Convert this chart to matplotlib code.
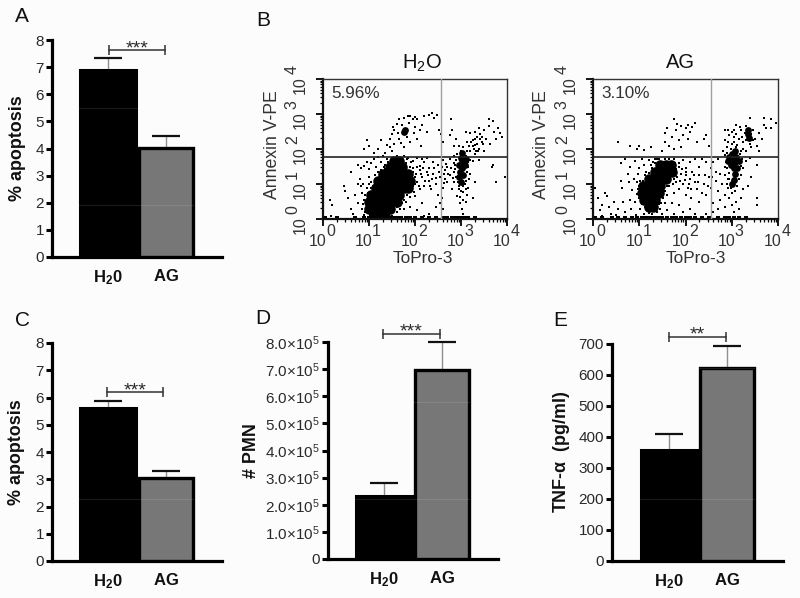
import numpy as np
import matplotlib
matplotlib.use("Agg")
import matplotlib.pyplot as plt
from matplotlib.ticker import FixedLocator, NullFormatter
from matplotlib.transforms import ScaledTranslation, blended_transform_factory

plt.rcParams['font.family'] = ['Liberation Sans', 'DejaVu Sans']
plt.rcParams['mathtext.fontset'] = 'custom'
plt.rcParams['mathtext.rm'] = 'Liberation Sans'
plt.rcParams['mathtext.bf'] = 'Liberation Sans:bold'
plt.rcParams['mathtext.it'] = 'Liberation Sans:italic'
plt.rcParams['mathtext.default'] = 'regular'

a_values = [6.88, 4.02]; a_tops = [7.35, 4.45]
c_values = [5.63, 3.04]; c_tops = [5.88, 3.31]
d_values = [2.33e5, 6.95e5]; d_tops = [2.8e5, 8.0e5]
e_values = [358, 620]; e_tops = [408, 691]

# flow cytometry events, in decades (log10 of ToPro-3, log10 of Annexin V-PE), read by eye
h2o_core = [(1.1,0.1),(1.25,0.1),(1.35,0.1),(1.0,0.3),(1.15,0.3),(1.3,0.3),(1.45,0.3),
            (1.0,0.5),(1.15,0.5),(1.3,0.5),(1.45,0.5),(1.6,0.5),(1.05,0.7),(1.2,0.7),(1.35,0.7),(1.5,0.7),(1.65,0.7),
            (1.15,0.9),(1.3,0.9),(1.45,0.9),(1.6,0.9),(1.75,0.9),(1.85,0.9),
            (1.2,1.1),(1.35,1.1),(1.5,1.1),(1.65,1.1),(1.8,1.1),(1.9,1.1),
            (1.3,1.3),(1.45,1.3),(1.6,1.3),(1.75,1.3),(1.85,1.3),(1.45,1.5),(1.6,1.5),(1.72,1.5),(1.55,1.65),(1.65,1.65)]
h2o_core2 = [(1.79,2.54),(1.76,2.5),(3.02,1.62),(3.03,1.45),(2.98,1.35),(3.05,1.25),(3.0,1.75),(3.08,1.55),(2.95,1.55),
             (3.02,1.9),(3.1,1.72),(2.96,1.2),(3.0,1.05)]
h2o_dots = [(0.9,2.0),(0.95,2.25),(1.0,2.1),(1.1,1.88),(1.2,2.0),(1.25,2.25),(1.35,1.9),(1.4,2.12),(1.45,2.3),(1.5,1.95),
 (1.55,2.15),(1.5,2.42),(1.55,2.55),(1.6,2.72),(1.65,2.3),(1.65,2.85),(1.7,2.18),(1.72,2.68),(1.75,2.05),(1.75,2.9),
 (1.82,2.33),(1.88,2.75),(1.9,2.2),(1.9,2.95),(1.97,2.45),(2.0,2.62),(2.05,2.85),(2.05,2.3),(2.12,2.1),(2.15,2.7),
 (2.2,2.95),(2.27,2.5),(2.3,2.96),(2.37,3.03),(2.42,2.88),(2.48,2.98),(2.53,2.55),(2.56,2.42),(2.6,2.2),(1.95,2.85),
 (1.85,2.95),(2.0,2.92),(2.1,2.55),(1.62,2.45),(1.52,2.62),(1.45,2.05),(0.75,1.55),(0.82,1.45),(0.9,1.52),(0.6,1.35),
 (0.95,1.62),(1.0,1.42),(1.05,1.6),(1.1,1.72),(1.15,1.5),(1.2,1.78),(1.25,1.62),(1.3,1.8),(1.35,1.55),(1.4,1.72),
 (1.5,1.7),(1.6,1.8),(1.7,1.72),(1.8,1.6),(1.85,1.75),(1.9,1.5),(1.95,1.65),(2.05,1.75),(2.1,1.52),(2.15,1.72),
 (2.2,1.62),(2.25,1.75),(2.3,1.45),(2.4,1.62),(2.5,1.55),(2.6,1.7),(2.7,1.5),(2.75,1.72),(2.85,1.6),(1.85,1.3),
 (1.9,1.12),(1.95,1.35),(2.0,1.2),(2.05,1.05),(2.1,1.4),(2.15,1.2),(2.2,0.95),(2.25,1.35),(2.3,1.1),(2.35,0.85),
 (2.4,1.3),(2.45,1.0),(2.5,0.7),(2.55,1.2),(2.6,0.9),(2.65,1.4),(2.7,1.05),(2.75,1.25),(2.8,0.85),(2.85,1.35),
 (2.65,1.15),(2.62,1.02),(2.58,0.6),(2.55,0.45),(2.85,1.05),(2.9,1.2),(2.95,0.95),(3.0,0.8),(2.92,0.65),(3.05,0.95),
 (3.1,1.1),(3.12,0.7),(2.98,0.45),(3.02,0.3),(3.05,0.15),(3.1,0.5),(3.15,0.9),(3.2,1.3),(3.15,1.5),(3.2,1.7),
 (3.1,1.8),(3.0,1.95),(2.95,2.1),(3.05,2.05),(3.12,2.2),(3.2,1.95),(3.25,2.1),(3.3,1.85),(3.35,2.15),(3.3,2.3),
 (3.4,2.0),(3.45,2.2),(3.5,1.95),(3.42,2.42),(3.5,2.55),(3.55,2.3),(3.6,2.65),(3.62,2.15),(3.7,2.8),(3.72,2.5),
 (3.75,2.3),(3.8,2.6),(3.85,2.45),(3.9,2.35),(3.6,2.85),(3.4,2.6),(3.3,2.5),(3.2,2.45),(3.1,2.5),(2.78,2.85),
 (2.8,2.55),(2.75,2.4),(2.9,2.3),(2.85,2.1),(3.25,1.65),(3.4,1.7),(3.7,1.55),(3.68,1.5),(0.15,0.55),(0.2,0.4),
 (0.18,0.1),(0.45,0.95),(0.48,0.8),(0.55,0.6),(0.6,0.3),(0.65,0.15),(0.7,0.7),(0.75,0.45),(0.8,1.15),(0.82,0.95),
 (0.85,0.3),(0.9,0.55),(0.9,0.12),(0.95,0.9),(0.98,0.2),(0.75,1.0),(1.0,1.2),(1.05,1.05),(1.12,1.25),(1.2,1.35),
 (1.28,1.3),(1.35,1.42),(1.7,0.65),(1.8,0.5),(1.85,0.8),(1.9,0.35),(2.0,0.65),(2.05,0.25),(2.1,0.85),(2.15,0.45),
 (2.3,0.15),(2.2,0.1),(2.45,0.35),(2.6,0.3),(3.75,1.05),(3.25,0.6),(3.3,1.05),(3.95,1.2),(1.75,0.3),(1.6,0.35),
 (1.5,0.2),(1.45,0.35),(1.55,0.5),(1.65,0.45),
 # denser fringe around the main populations
 (2.0,1.0),(2.02,1.3),(2.05,1.48),(2.08,0.95),(2.12,1.3),(2.18,1.45),(2.22,1.08),(2.28,1.25),(2.32,0.95),(2.38,1.15),
 (2.42,1.45),(2.46,1.18),(2.52,1.35),(2.58,1.5),(2.62,1.28),(2.68,1.58),(2.72,1.3),(2.78,1.45),(2.82,1.18),(2.88,1.42),
 (2.9,1.7),(2.92,1.85),(2.88,1.55),(2.85,1.8),(3.12,1.35),(3.15,1.62),(3.18,1.15),(3.12,1.95),(3.08,1.0),(3.05,0.78),
 (2.96,0.85),(2.93,1.05),(3.1,0.85),(2.98,0.62),(3.05,0.55),(3.3,2.12),(3.35,2.35),(3.38,1.95),(3.42,2.28),(3.28,2.0),
 (3.32,1.95),(3.45,2.35),(3.25,2.25),(3.48,2.15),(3.22,2.2),(3.18,2.1),(1.95,0.95),(1.98,0.78),(1.9,0.62),(1.82,0.68),
 (1.75,0.55),(1.72,0.45),(1.68,0.3),(1.6,0.2),(1.5,0.1),(1.95,1.45),(1.92,1.62),(1.82,1.72),(1.75,1.8),(1.62,1.72),
 (1.42,1.62),(1.32,1.48),(1.25,1.4),(1.18,1.18),(1.12,1.0),(1.05,0.88),(0.98,0.75),(0.92,0.68),(0.88,0.42),(0.95,0.3),
 (0.92,0.2),(1.02,0.12),(1.08,0.95),(0.85,0.75),(0.88,1.0),(1.0,1.0)]
h2o_base = [0.05,0.3,0.7,0.9,1.0,1.1,1.15,1.2,1.25,1.3,1.35,1.4,1.5,1.55,1.6,1.7,1.8,1.9,2.0,2.15,2.3,2.45,2.6,2.7,2.8,2.9,2.95,3.0,3.05,3.1,3.15,3.3]

ag_core = [(1.2,0.35),(1.3,0.35),(1.1,0.55),(1.22,0.55),(1.35,0.55),(1.05,0.75),(1.18,0.75),(1.3,0.75),(1.42,0.75),
           (1.08,0.95),(1.2,0.95),(1.32,0.95),(1.45,0.95),(1.2,1.15),(1.32,1.15),(1.45,1.15),(1.58,1.15),
           (1.35,1.35),(1.48,1.35),(1.6,1.35),(1.7,1.35),(1.45,1.55),(1.58,1.55),(1.68,1.55)]
ag_core2 = [(3.02,1.72),(3.08,1.62),(2.98,1.55),(3.1,1.78),(3.12,1.45),(3.0,1.85),(3.35,2.42),(3.38,2.32),(3.07,1.3),
            (2.92,1.65),(3.15,1.65),(3.05,1.45),(2.95,1.78),(3.08,1.95),(3.05,1.12),(3.0,1.0),(3.35,2.55)]
ag_dots = [(0.55,2.2),(0.8,2.1),(0.95,2.0),(1.0,2.1),(1.1,1.98),(1.25,2.05),(1.5,1.95),(1.55,2.2),(1.55,2.45),(1.6,2.6),
 (1.65,2.1),(1.7,2.35),(1.75,2.0),(1.8,2.55),(1.85,2.25),(1.9,2.05),(1.9,2.65),(1.95,2.4),(1.75,2.85),(2.0,2.6),
 (2.05,2.3),(2.05,2.7),(2.1,2.5),(2.2,2.75),(2.25,2.2),(2.4,2.3),(2.45,2.4),(2.5,2.1),(2.15,2.62),(1.82,2.72),
 (0.6,1.6),(0.7,1.72),(0.8,1.5),(0.9,1.65),(1.0,1.45),(1.05,1.72),(1.1,1.55),(1.15,1.35),(1.2,1.7),(1.25,1.55),
 (1.3,1.4),(1.35,1.72),(1.4,1.6),(1.75,1.72),(1.85,1.6),(1.95,1.7),(2.0,1.45),(2.1,1.62),(2.15,1.35),(2.2,1.72),
 (2.3,1.5),(2.35,1.72),(2.45,1.62),(2.55,1.45),(2.6,1.62),(2.65,1.35),(2.7,1.72),(2.3,1.25),(2.2,1.05),(2.1,1.15),
 (2.0,1.25),(1.9,1.3),(1.8,1.05),(1.85,0.85),(1.95,1.0),(2.05,0.9),(1.75,0.75),(2.0,0.7),(2.12,0.6),(2.25,0.85),
 (2.3,0.5),(2.4,1.0),(2.45,0.7),(2.5,1.2),(2.55,0.9),(2.6,0.45),(2.65,1.1),(2.7,0.8),(2.75,1.3),(2.8,1.0),
 (2.75,0.55),(2.85,0.7),(2.85,1.25),(2.9,1.45),(2.9,1.0),(2.92,0.9),(2.95,1.15),(3.0,1.05),(3.05,0.95),(3.08,1.1),
 (2.95,0.6),(3.0,0.4),(3.05,0.2),(3.1,0.5),(3.15,0.3),(3.2,0.6),(3.2,1.25),(3.25,1.45),(3.3,1.65),(3.3,1.95),
 (3.2,1.95),(3.1,2.05),(3.0,2.15),(2.9,2.05),(2.85,2.25),(2.95,2.4),(3.05,2.35),(3.15,2.3),(3.2,2.55),(3.25,2.2),
 (3.3,2.65),(3.1,2.7),(3.05,2.55),(3.4,2.15),(3.45,2.55),(3.5,2.3),(3.55,2.1),(3.6,2.45),(3.65,2.3),(3.7,2.7),
 (3.75,2.6),(3.85,2.6),(3.85,2.85),(3.7,2.9),(3.95,2.75),(3.55,1.55),(3.6,1.95),(3.4,1.75),(3.4,2.9),(3.42,1.2),
 (0.05,0.9),(0.1,0.6),(0.15,0.25),(0.2,0.4),(0.2,0.1),(0.25,0.75),(0.3,0.65),(0.35,0.35),(0.38,0.15),(0.45,0.5),
 (0.5,0.12),(0.55,0.3),(0.6,1.1),(0.62,0.9),(0.65,0.5),(0.7,0.2),(0.75,1.3),(0.78,1.05),(0.8,0.55),(0.82,0.3),
 (0.85,0.82),(0.88,1.15),(0.9,0.5),(0.92,0.12),(0.95,0.72),(0.98,1.3),(1.0,0.95),(1.02,0.3),(1.05,0.55),(1.08,1.1),
 (1.1,0.15),(1.12,0.35),(1.18,1.2),(1.22,0.18),(1.45,0.3),(1.5,0.15),(1.55,0.45),(1.6,0.25),(1.6,0.7),(1.65,0.95),
 (1.7,0.45),(1.75,0.15),(1.78,1.3),(1.85,0.4),(1.95,0.2),(2.1,0.3),(2.2,0.15),(2.45,0.15),(2.6,0.2),(2.7,0.3),
 (2.85,0.35),(3.55,0.4),(3.55,0.6),(3.25,0.85),(3.35,0.95),(1.72,1.0),(1.72,1.42),(1.45,1.55),(1.35,1.25),
 # denser fringe around the main populations
 (1.75,1.15),(1.82,1.2),(1.88,1.1),(1.8,1.42),(1.85,1.48),(1.78,1.6),(1.92,1.42),(1.98,1.12),(2.02,1.35),(2.08,1.0),
 (2.12,0.85),(2.18,1.25),(1.55,0.8),(1.6,0.95),(1.65,1.08),(1.52,0.6),(1.48,0.45),(1.42,0.42),(1.38,0.2),(1.28,0.15),
 (1.0,0.6),(0.98,0.85),(0.95,1.05),(1.02,1.1),(1.12,1.25),(1.22,1.32),(1.28,1.45),(1.35,1.6),(1.42,1.72),(1.55,1.72),
 (1.65,1.72),(1.05,0.42),(2.85,1.5),(2.88,1.62),(2.85,1.82),(2.82,1.95),(2.9,1.9),(2.92,2.2),(2.98,2.0),(3.05,2.2),
 (3.12,2.12),(3.18,1.85),(3.22,1.72),(3.2,1.52),(3.25,2.0),(3.22,2.35),(3.28,2.45),(3.3,2.25),(3.42,2.42),(3.45,2.25),
 (3.42,2.05),(2.95,1.32),(2.92,1.15),(3.15,1.15),(3.12,0.95),(3.08,0.8),(3.0,0.75),(2.98,0.9),(3.1,2.42),(3.0,2.5),
 (2.92,2.55),(2.85,2.55),(3.18,2.62),(1.38,1.72),(1.3,1.62),(2.42,1.25),(2.58,1.2),(2.48,0.95),(2.35,0.75),(2.28,1.05)]
ag_base = [0.05,0.2,0.4,0.55,0.7,0.85,0.95,1.05,1.1,1.15,1.2,1.25,1.3,1.35,1.4,1.45,1.5,1.6,1.7,1.8,1.9,2.0,2.1,2.2,2.35,2.5,2.7,2.85,2.95,3.05,3.15,3.3]

flow_gate_x, flow_gate_y = 2.56, 1.76
W, H = 800, 598
fig = plt.figure(figsize=(8, 5.98), dpi=100, facecolor='#fcfcfc')
TXT = '#2a2a2a'

def axpx(l, t, r, b):
    ax = fig.add_axes([l/W, 1-b/H, (r-l)/W, (b-t)/H])
    ax.patch.set_alpha(0)
    return ax

def barpanel(box, c0, vals, tops, ymax, yticks, ylabels, ylab, br_y, letter, lx, ylab_x, stars, streaks, br=(0.02, 0.98)):
    l, t, r, b = box
    ax = axpx(l, t, r, b)
    unit = 58.0
    ax.set_xlim((l-c0)/unit, (r-c0)/unit)
    ax.set_ylim(0, ymax)
    ax.bar([0], vals[0], width=0.98, color='black', edgecolor='black', linewidth=2.2, zorder=3)
    ax.bar([1], vals[1], width=0.93, color='#777777', edgecolor='black', linewidth=2.4, zorder=3)
    for s in streaks:
        ax.plot([-0.5, 1.47], [s, s], color='white', alpha=0.1, lw=0.9, zorder=4)
    for i in range(2):
        cont = ax.errorbar([i], [vals[i]], yerr=[[0], [tops[i]-vals[i]]], fmt='none', ecolor='#8f8f8f',
                           elinewidth=1.0, capsize=10, capthick=1.6, zorder=2)
        cont[1][0].set_visible(False)
        cont[1][1].set_markeredgecolor('#111111')
        for cap in cont[1]:
            cap.set_clip_on(False)
        cont[2][0].set_clip_on(False)
    ax.plot(list(br), [br_y, br_y], color='#333333', lw=1.1, clip_on=False,
            marker='|', ms=6.5, mew=1.1, zorder=4)
    ax.annotate(stars, (sum(br)/2, br_y), xytext=(0, -2.2), textcoords='offset points',
                ha='center', va='baseline', fontsize=14, color=TXT, annotation_clip=False)
    for s in ['top', 'right']:
        ax.spines[s].set_visible(False)
    ax.spines['left'].set_linewidth(2.3)
    ax.spines['bottom'].set_linewidth(2.3)
    ax.set_xticks([0, 1])
    ax.set_xticklabels([r'$\mathbf{H_{2}0}$', r'$\mathbf{AG}$'], fontsize=12, color='#111111')
    ax.tick_params(axis='x', length=0, pad=8)
    ax.set_yticks(yticks)
    ax.set_yticklabels(ylabels, fontsize=11, color=TXT)
    ax.tick_params(axis='y', length=4.2, width=2.2, pad=1.5)
    fig.text(ylab_x/W, 1-(t+b)/2/H, ylab, rotation=90, ha='center', va='center',
             fontsize=12.9, fontweight='bold', color='#111111')
    fig.text(lx/W, 1-(t-23)/H, letter, fontsize=15, color='#111111', ha='left', va='center')
    return ax

ax_a = barpanel((52, 40, 222, 257), 108, a_values, a_tops, 8, range(9), [str(i) for i in range(9)],
                '% apoptosis', 7.63, 'A', 15, 18, '***', [5.5, 1.9])
ax_c = barpanel((52, 343, 222, 561), 108, c_values, c_tops, 8, range(9), [str(i) for i in range(9)],
                '% apoptosis', 6.19, 'C', 15, 17, '***', [2.27], br=(-0.02, 0.95))
d_ticks = [i*1e5 for i in range(9)]
d_labels = ['0'] + [f'{i}.0×10$^5$' for i in range(1, 9)]
ax_d = barpanel((328, 342, 498, 559), 384, d_values, d_tops, 8e5, d_ticks, d_labels,
                '# PMN', 8.3e5, 'D', 255, 252, '***', [5.8e5, 2.2e5], br=(-0.01, 0.96))
ax_e = barpanel((612, 343.5, 783, 561), 669, e_values, e_tops, 700, range(0, 701, 100),
                [str(i) for i in range(0, 701, 100)], r'TNF-$\alpha$  (pg/ml)', 722, 'E', 553, 562, '**', [620, 200],
                br=(0, 0.98))

def flow(box, core, core2, dots, base, title, title_x, xlabel_x, pct):
    l, t, r, b = box
    ax = axpx(l, t, r, b)
    ax.set_xscale('log'); ax.set_yscale('log')
    ax.set_xlim(1, 1e4); ax.set_ylim(1, 1e4)
    cx, cy = np.array(core).T
    ax.scatter(10**cx, 10**cy, s=58, c='black', marker='o', linewidths=0, zorder=2)
    c2x, c2y = np.array(core2).T
    ax.scatter(10**c2x, 10**c2y, s=24, c='black', marker='o', linewidths=0, zorder=2)
    dx, dy = np.array(dots).T
    ax.scatter(10**dx, 10**dy, s=2.8, c='black', marker='s', linewidths=0, zorder=2)
    bx = 10**np.array(base)
    ax.scatter(bx, np.full(bx.shape, 1.05), s=7, c='black', marker='s', linewidths=0, zorder=2, clip_on=False)
    ax.axhline(10**flow_gate_y, color='#222222', lw=1.2, zorder=3)
    ax.axvline(10**flow_gate_x, color='#a0a0a0', lw=1.0, zorder=3)
    for s in ['top', 'right']:
        ax.spines[s].set_linewidth(1.0); ax.spines[s].set_color('#333333')
    for s in ['left', 'bottom']:
        ax.spines[s].set_linewidth(1.6); ax.spines[s].set_color('#111111')
    ticks = [1, 10, 100, 1000, 10000]
    minor = [m*10**d for d in range(4) for m in range(2, 10)]
    ax.xaxis.set_major_locator(FixedLocator(ticks)); ax.yaxis.set_major_locator(FixedLocator(ticks))
    ax.xaxis.set_minor_locator(FixedLocator(minor)); ax.yaxis.set_minor_locator(FixedLocator(minor))
    ax.xaxis.set_minor_formatter(NullFormatter()); ax.yaxis.set_minor_formatter(NullFormatter())
    ax.set_xticklabels(['10']*5, fontsize=11.5, color='#333333')
    ax.set_yticklabels(['10']*5, fontsize=11.5, color='#333333', rotation=90, va='center')
    ax.tick_params(which='major', length=5, width=1.3, pad=6)
    ax.tick_params(which='minor', length=2.5, width=0.9)
    dx_off = ScaledTranslation(-5/100, 0, fig.dpi_scale_trans)
    dy_off = ScaledTranslation(0, -6/100, fig.dpi_scale_trans)
    for lab in ax.get_xticklabels():
        lab.set_transform(lab.get_transform() + dx_off)
    for lab in ax.get_yticklabels():
        lab.set_transform(lab.get_transform() + dy_off)
    tx = blended_transform_factory(ax.transData, ax.transAxes)
    ty = blended_transform_factory(ax.transAxes, ax.transData)
    for i, v in enumerate(ticks):
        ax.annotate(str(i), (v, 0), xycoords=tx, xytext=(5.5, -9), textcoords='offset points', ha='center',
                    va='center', fontsize=11.5, color='#333333', annotation_clip=False)
        ax.annotate(str(i), (0, v), xycoords=ty, xytext=(-22, 6.5), textcoords='offset points', ha='center',
                    va='center', fontsize=11.5, color='#333333', rotation=90, annotation_clip=False)
    ax.set_xlabel('ToPro-3', fontsize=12.4, color='#333333', va='center')
    ax.xaxis.set_label_coords(xlabel_x, -0.279)
    ax.set_ylabel('Annexin V-PE', fontsize=12.7, color='#333333', va='center')
    ax.yaxis.set_label_coords(-0.277, 0.53)
    fig.text(title_x/W, 1-63/H, title, fontsize=14.5, color='#111111', ha='center', va='center')
    ax.text(0.045, 0.895, pct, transform=ax.transAxes, fontsize=12.3, color='#333333', va='center', zorder=5)
    return ax

flow((323, 79, 507, 219), h2o_core, h2o_core2, h2o_dots, h2o_base, 'H$_2$O', 422, 0.545, '5.96%')
flow((593, 79, 778, 219), ag_core, ag_core2, ag_dots, ag_base, 'AG', 680, 0.555, '3.10%')
fig.text(256/W, 1-20/H, 'B', fontsize=15, color='#111111', ha='left', va='center')

fig.savefig('out.png', dpi=100, facecolor=fig.get_facecolor())
